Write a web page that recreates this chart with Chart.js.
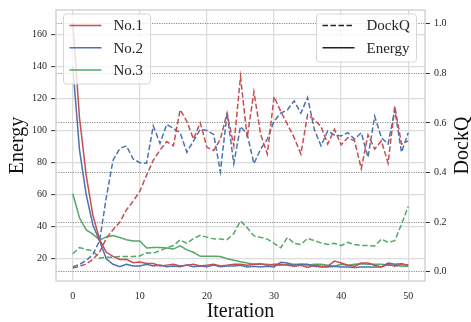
<!DOCTYPE html>
<html>
<head>
<meta charset="utf-8">
<script src="https://cdn.jsdelivr.net/npm/chart.js@4.4.1/dist/chart.umd.min.js"></script>
<style>
  html, body { margin: 0; padding: 0; background: #fff; }
</style>
</head>
<body>
<canvas id="chartDockQ" width="471" height="322"></canvas>
<script>
(function() {
  'use strict';

  // values
  const iterations = [0, 1, 2, 3, 4, 5, 6, 7, 8, 9, 10, 11, 12, 13, 14, 15, 16, 17, 18, 19, 20,
    21, 22, 23, 24, 25, 26, 27, 28, 29, 30, 31, 32, 33, 34, 35, 36, 37, 38, 39, 40,
    41, 42, 43, 44, 45, 46, 47, 48, 49, 50];

  const energyNo1 = [167, 108, 72, 47, 32, 24, 21.5, 19.5, 19.6, 17.5, 18,
    17, 17, 15.5, 16, 16.5, 15.5, 16, 16.5, 15.5, 16,
    16.5, 15.5, 16, 16.5, 16.5, 15.9, 16.5, 16.9, 15.9, 16.5,
    16.5, 15.9, 15.3, 15.9, 14.5, 15.9, 15.3, 15.3, 18.5, 17.3,
    15.9, 15.3, 17.3, 17.3, 15.9, 14.9, 16.5, 15.3, 16.5, 15.9];
  const energyNo2 = [140, 88, 60, 41, 31, 20, 16.5, 15, 16.5, 15.5, 15.5,
    16.5, 15.5, 16, 15, 15.5, 15, 16, 15, 15.5, 15,
    16, 15, 15.5, 15.5, 15.9, 14.9, 15.3, 14.9, 15.3, 14.9,
    17.8, 17.3, 15.9, 16.5, 16.5, 15.3, 14.9, 14.9, 15.3, 14.9,
    14.9, 14.5, 14.9, 14.9, 14.9, 14.9, 17.3, 16.5, 16.9, 15.9];
  const energyNo3 = [60.5, 45.5, 38, 35.3, 31.6, 33.6, 34.5, 33.2, 31.8, 31, 31,
    26.7, 27, 27, 26.7, 26, 28, 25.5, 24, 21.5, 21.5,
    21.6, 21.4, 20, 19, 18.1, 17.3, 16.5, 16.5, 16.5, 15.9,
    15.9, 16.5, 16.5, 16.5, 15.9, 16.5, 16.5, 15.9, 15.3, 16.5,
    15.9, 16.5, 16.9, 16.5, 16.5, 16.5, 15.9, 15.9, 15.3, 15.3];

  const dockqNo1 = [0.015, 0.022, 0.032, 0.05, 0.08, 0.135, 0.17, 0.2, 0.25, 0.285, 0.325,
    0.39, 0.45, 0.49, 0.525, 0.508, 0.653, 0.607, 0.535, 0.601, 0.502,
    0.489, 0.535, 0.64, 0.508, 0.786, 0.541, 0.726, 0.554, 0.475, 0.706,
    0.647, 0.594, 0.541, 0.475, 0.634, 0.614, 0.586, 0.515, 0.574, 0.512,
    0.541, 0.528, 0.416, 0.552, 0.495, 0.528, 0.438, 0.667, 0.515, 0.528];
  const dockqNo2 = [0.02, 0.03, 0.046, 0.07, 0.126, 0.3, 0.45, 0.497, 0.508, 0.455, 0.44,
    0.438, 0.588, 0.518, 0.594, 0.578, 0.561, 0.482, 0.528, 0.574, 0.57,
    0.554, 0.403, 0.64, 0.436, 0.586, 0.554, 0.436, 0.495, 0.535, 0.607,
    0.64, 0.653, 0.689, 0.64, 0.703, 0.574, 0.508, 0.568, 0.552, 0.548,
    0.561, 0.535, 0.561, 0.462, 0.627, 0.541, 0.515, 0.653, 0.482, 0.561];
  const dockqNo3 = [0.073, 0.098, 0.09, 0.085, 0.055, 0.059, 0.059, 0.062, 0.062, 0.062, 0.064,
    0.077, 0.075, 0.086, 0.097, 0.106, 0.129, 0.115, 0.135, 0.147, 0.14,
    0.133, 0.132, 0.13, 0.155, 0.205, 0.178, 0.145, 0.139, 0.132, 0.115,
    0.097, 0.139, 0.115, 0.11, 0.135, 0.126, 0.117, 0.11, 0.115, 0.106,
    0.119, 0.11, 0.106, 0.106, 0.104, 0.132, 0.119, 0.126, 0.192, 0.264];

  const seriesNames = ['No.1', 'No.2', 'No.3'];
  const metricNames = ['DockQ', 'Energy'];
  const iterTicks = [0, 10, 20, 30, 40, 50];
  const energyTicks = [20, 40, 60, 80, 100, 120, 140, 160];
  const dockqTicks = [0.0, 0.2, 0.4, 0.6, 0.8, 1.0];

  const COLORS = ['#c44e52', '#4c72b0', '#55a868'];
  const DASH = [5.5, 2.5];
  const FONT = "'Liberation Serif', 'DejaVu Serif', serif";
  const TEXT = '#262626';

  Chart.defaults.font.family = FONT;
  Chart.defaults.color = TEXT;

  function points(values) {
    return iterations.map((x, k) => ({ x: x, y: values[k] }));
  }

  function ticksFrom(list) {
    return function(scale) {
      scale.ticks = list.map(v => ({ value: v }));
    };
  }

  const energySets = [energyNo1, energyNo2, energyNo3];
  const dockqSets = [dockqNo1, dockqNo2, dockqNo3];
  const datasets = [];

  // DockQ lines first so they sit on top (dataset 0 is drawn last)
  dockqSets.forEach((vals, k) => {
    datasets.push({
      label: seriesNames[k] + ' DockQ',
      data: points(vals),
      yAxisID: 'y1',
      borderColor: COLORS[k],
      borderWidth: 1.5,
      borderDash: DASH,
      pointRadius: 0,
      tension: 0
    });
  });
  energySets.forEach((vals, k) => {
    datasets.push({
      label: seriesNames[k] + ' Energy',
      data: points(vals),
      yAxisID: 'y',
      borderColor: COLORS[k],
      borderWidth: 1.5,
      pointRadius: 0,
      tension: 0
    });
  });

  function roundRect(ctx, x, y, w, h, r) {
    ctx.beginPath();
    ctx.moveTo(x + r, y);
    ctx.lineTo(x + w - r, y);
    ctx.quadraticCurveTo(x + w, y, x + w, y + r);
    ctx.lineTo(x + w, y + h - r);
    ctx.quadraticCurveTo(x + w, y + h, x + w - r, y + h);
    ctx.lineTo(x + r, y + h);
    ctx.quadraticCurveTo(x, y + h, x, y + h - r);
    ctx.lineTo(x, y + r);
    ctx.quadraticCurveTo(x, y, x + r, y);
    ctx.closePath();
  }

  function drawLegend(ctx, box, rows) {
    ctx.save();
    roundRect(ctx, box.x, box.y, box.w, box.h, 3);
    ctx.fillStyle = 'rgba(255,255,255,0.8)';
    ctx.fill();
    ctx.strokeStyle = '#d6d6d6';
    ctx.lineWidth = 1;
    ctx.stroke();
    ctx.font = '15px ' + FONT;
    ctx.textBaseline = 'middle';
    ctx.textAlign = 'left';
    rows.forEach((row, k) => {
      const y = box.y + 11.5 + k * 22.3;
      ctx.beginPath();
      ctx.setLineDash(row.dash || []);
      ctx.strokeStyle = row.color;
      ctx.lineWidth = 1.5;
      ctx.moveTo(box.x + 6, y);
      ctx.lineTo(box.x + 38, y);
      ctx.stroke();
      ctx.setLineDash([]);
      ctx.fillStyle = TEXT;
      ctx.fillText(row.text, box.x + 50, y + 1);
    });
    ctx.restore();
  }

  const framePlugin = {
    id: 'frame',
    beforeDatasetsDraw(chart) {
      const a = chart.chartArea;
      const ctx = chart.ctx;
      ctx.save();
      ctx.strokeStyle = '#d4d4d4';
      ctx.lineWidth = 1.5;
      ctx.strokeRect(a.left, a.top, a.right - a.left, a.bottom - a.top);
      ctx.restore();
    },
    afterDraw(chart) {
      const ctx = chart.ctx;
      const a = chart.chartArea;
      drawLegend(ctx, { x: 63.5, y: 14, w: 87, h: 70 },
        seriesNames.map((n, k) => ({ text: n, color: COLORS[k] })));
      drawLegend(ctx, { x: 316.5, y: 14, w: 100, h: 48 }, [
        { text: metricNames[0], color: '#222', dash: DASH },
        { text: metricNames[1], color: '#222' }
      ]);
      // right axis title reads bottom-to-top, like matplotlib
      ctx.save();
      ctx.translate(463, (a.top + a.bottom) / 2);
      ctx.rotate(-Math.PI / 2);
      ctx.font = '20px ' + FONT;
      ctx.fillStyle = '#111';
      ctx.textAlign = 'center';
      ctx.textBaseline = 'middle';
      ctx.fillText('DockQ', 0, 0);
      ctx.restore();
    }
  };

  const canvas = document.getElementById('chartDockQ');
  new Chart(canvas.getContext('2d'), {
    type: 'line',
    data: { datasets: datasets },
    plugins: [framePlugin],
    options: {
      responsive: false,
      devicePixelRatio: 1,
      animation: false,
      layout: { padding: { top: 5, left: 0, right: 0, bottom: 0 } },
      plugins: {
        legend: { display: false },
        tooltip: { enabled: false }
      },
      scales: {
        x: {
          type: 'linear',
          min: -2.5,
          max: 52.5,
          afterBuildTicks: ticksFrom(iterTicks),
          afterFit: s => { s.height = 41; },
          grid: { color: '#dcdcdc', lineWidth: 1.3, drawTicks: false },
          border: { display: false },
          ticks: { padding: 9, font: { size: 10 }, color: TEXT },
          title: {
            display: true,
            text: 'Iteration',
            font: { size: 20, lineHeight: 1 },
            color: '#111',
            padding: { top: 0, bottom: 0 }
          }
        },
        y: {
          position: 'left',
          min: 6.1,
          max: 175.1,
          afterBuildTicks: ticksFrom(energyTicks),
          afterFit: s => { s.width = 56; },
          grid: { color: '#dcdcdc', lineWidth: 1.3, tickColor: '#333', tickLength: 5, tickWidth: 1 },
          border: { display: false },
          ticks: { padding: 4, font: { size: 10 }, color: TEXT },
          title: {
            display: true,
            text: 'Energy',
            font: { size: 20, lineHeight: 1 },
            color: '#111',
            padding: { top: 8, bottom: 0 }
          }
        },
        y1: {
          position: 'right',
          min: -0.0368,
          max: 1.0554,
          afterBuildTicks: ticksFrom(dockqTicks),
          afterFit: s => { s.width = 46; },
          grid: { color: '#8c8c8c', lineWidth: 1, tickColor: '#333', tickLength: 5, tickWidth: 1 },
          border: { display: false, dash: [1.2, 1.2] },
          ticks: {
            padding: 4,
            font: { size: 10 },
            color: TEXT,
            callback: v => v.toFixed(1)
          }
        }
      }
    }
  });
})();
</script>
</body>
</html>
